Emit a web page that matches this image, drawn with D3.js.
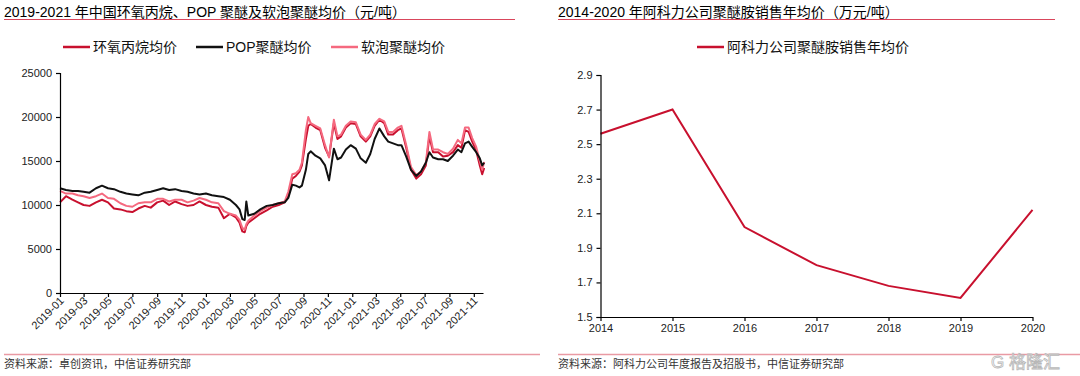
<!DOCTYPE html>
<html>
<head>
<meta charset="utf-8">
<script src="https://cdn.jsdelivr.net/npm/d3@7"></script>
<style>
  body { margin: 0; background: #fff; }
  svg { display: block; font-family: "Liberation Sans", Arial, "Noto Sans CJK SC", sans-serif; }
  .axis path, .axis line { stroke: #000; stroke-width: 1.2px; }
  .axis text { fill: #222; font-size: 11px; }
</style>
</head>
<body>
<svg id="chart" width="1080" height="376"></svg>
<script>
// left chart: prices, thousand yuan/ton
var dates = ["2019-01-01","2019-01-16","2019-02-01","2019-02-15","2019-03-01","2019-03-16","2019-04-01","2019-04-16",
  "2019-05-01","2019-05-16","2019-06-01","2019-06-16","2019-07-01","2019-07-16","2019-08-01","2019-08-16",
  "2019-09-01","2019-09-16","2019-10-01","2019-10-16","2019-11-01","2019-11-16","2019-12-01","2019-12-16",
  "2020-01-01","2020-01-16","2020-02-01","2020-02-15","2020-03-01","2020-03-16","2020-03-25","2020-04-01",
  "2020-04-07","2020-04-11","2020-04-16","2020-05-01","2020-05-16","2020-06-01","2020-06-16","2020-07-01",
  "2020-07-16","2020-07-25","2020-08-04","2020-08-13","2020-08-22","2020-08-28","2020-09-07","2020-09-13",
  "2020-09-19","2020-10-01","2020-10-13","2020-10-25","2020-11-04","2020-11-16","2020-11-25","2020-12-04",
  "2020-12-16","2020-12-28","2021-01-10","2021-01-22","2021-02-04","2021-02-15","2021-02-26","2021-03-10",
  "2021-03-22","2021-04-01","2021-04-13","2021-04-25","2021-05-04","2021-05-16","2021-05-28","2021-06-10",
  "2021-06-22","2021-07-04","2021-07-13","2021-07-22","2021-08-04","2021-08-16","2021-08-28","2021-09-10",
  "2021-09-22","2021-10-01","2021-10-10","2021-10-19","2021-10-28","2021-11-07","2021-11-16","2021-11-22",
  "2021-11-27"];

var poAvg = [10.3,11.0,10.6,10.3,10.0,9.9,10.3,10.6,10.3,9.6,9.5,9.3,9.2,9.6,9.9,9.7,
  10.3,10.5,10.0,10.4,10.1,9.9,10.0,10.4,10.0,9.8,9.7,8.5,9.0,8.6,8.0,7.0,
  6.9,7.6,8.0,8.5,9.0,9.4,9.8,10.0,10.3,11.0,13.0,13.3,13.8,14.5,17.5,19.0,
  19.2,18.8,18.5,16.5,15.5,19.3,17.5,17.8,18.8,19.3,19.2,17.8,17.2,17.8,19.0,19.7,
  19.3,18.0,18.0,18.5,18.7,16.5,14.0,13.0,13.5,14.5,17.8,16.0,16.0,15.5,15.6,16.0,
  16.8,16.5,18.5,18.3,17.2,16.2,14.5,13.5,14.2];

var popAvg = [11.9,11.7,11.6,11.6,11.5,11.4,11.9,12.2,11.9,11.8,11.5,11.3,11.2,11.1,11.4,11.5,
  11.7,11.9,11.7,11.8,11.6,11.5,11.3,11.2,11.3,11.1,11.0,10.9,10.6,10.0,9.5,8.4,
  8.3,10.4,8.8,9.0,9.5,9.9,10.0,10.2,10.3,10.8,12.3,12.2,12.0,12.2,14.0,15.8,
  16.1,15.6,15.3,14.5,12.8,16.4,15.2,15.4,16.3,16.8,16.4,15.3,14.8,15.8,17.5,18.7,
  17.8,17.2,17.0,16.8,16.8,15.5,14.0,13.3,13.8,14.8,16.0,15.4,15.2,15.2,15.0,15.6,
  16.3,16.0,17.0,17.2,16.6,16.0,15.3,14.5,14.8];

var foamAvg = [11.6,11.3,11.3,11.1,11.0,10.8,11.0,11.3,10.8,10.7,10.2,9.9,9.8,10.2,10.3,10.3,
  10.7,10.7,10.4,10.6,10.6,10.3,10.5,10.8,10.6,10.3,10.2,9.3,9.0,8.8,8.3,7.4,
  7.2,7.8,8.2,8.8,9.3,9.7,10.0,10.2,10.4,11.5,13.5,13.6,14.0,14.8,18.5,20.0,
  19.3,19.0,18.7,16.8,15.4,19.7,17.8,18.0,19.0,19.5,19.4,18.0,17.4,18.0,19.2,19.8,
  19.5,18.3,18.3,18.8,19.0,16.8,14.3,13.4,13.8,14.8,18.3,16.3,16.3,16.0,15.8,16.4,
  17.4,17.0,18.8,18.8,17.6,16.6,15.0,14.0,14.9];

var leftNames = ["环氧丙烷均价", "POP聚醚均价", "软泡聚醚均价"];
var leftColors = ["#c8102e", "#111111", "#f5697f"];
var leftTicks = [0, 5000, 10000, 15000, 20000, 25000];

// right chart
var years = ["2014", "2015", "2016", "2017", "2018", "2019", "2020"];
var pea = [2.56, 2.70, 2.02, 1.80, 1.68, 1.61, 2.12];
var rightTicks = [1.5, 1.7, 1.9, 2.1, 2.3, 2.5, 2.7, 2.9];

var svg = d3.select("#chart");
var parse = d3.timeParse("%Y-%m-%d");

function header(x0, x1, title, source) {
	svg.append("text").attr("x", x0).attr("y", 17)
		.style("font-size", "14px").style("fill", "#000")
		.text(title);
	svg.append("line").attr("x1", x0).attr("x2", x1).attr("y1", 19.5).attr("y2", 19.5)
		.style("stroke", "#d9465c").style("stroke-width", 1);
	svg.append("line").attr("x1", x0).attr("x2", x1 + 25).attr("y1", 354.5).attr("y2", 354.5)
		.style("stroke", "#e99aa4").style("stroke-width", 1.5);
	svg.append("text").attr("x", x0).attr("y", 368)
		.style("font-size", "11px").style("fill", "#333")
		.text(source);
}

function legendItem(x, y, color, label) {
	svg.append("line").attr("x1", x).attr("x2", x + 27).attr("y1", y).attr("y2", y)
		.style("stroke", color).style("stroke-width", 2.5);
	svg.append("text").attr("x", x + 30).attr("y", y + 5)
		.style("font-size", "14px").style("fill", "#111")
		.text(label);
}

// ---------- left chart ----------
header(4, 515, "2019-2021 年中国环氧丙烷、POP 聚醚及软泡聚醚均价（元/吨）", "资料来源：卓创资讯，中信证券研究部");

var x = d3.scaleTime().domain([parse("2019-01-01"), parse("2021-11-24")]).range([60, 483]);
var y = d3.scaleLinear().domain([0, 25000]).range([293, 73]);

var series = [poAvg, popAvg, foamAvg];
var drawOrder = [0, 2, 1];

var line = d3.line()
	.x(function(d) { return x(d.date); })
	.y(function(d) { return y(d.value); });

drawOrder.forEach(function(k) {
	var pts = dates.map(function(s, i) { return {date: parse(s), value: series[k][i] * 1000}; });
	svg.append("path").datum(pts)
		.attr("d", line)
		.style("fill", "none")
		.style("stroke", leftColors[k])
		.style("stroke-width", 2)
		.style("stroke-linejoin", "round");
});

svg.append("g").attr("class", "axis").attr("transform", "translate(60,0)")
	.call(d3.axisLeft(y).tickValues(leftTicks).tickSize(4).tickPadding(4).tickFormat(d3.format("d")));

svg.append("g").attr("class", "axis").attr("transform", "translate(0,293)")
	.call(d3.axisBottom(x).ticks(d3.timeMonth.every(2)).tickSize(4).tickSizeOuter(0).tickFormat(d3.timeFormat("%Y-%m")))
	.selectAll("text")
	.attr("x", -3).attr("y", 5).attr("dy", "0.35em")
	.attr("transform", "rotate(-45)")
	.style("text-anchor", "end");

legendItem(63, 47, leftColors[0], leftNames[0]);
legendItem(196, 47, leftColors[1], leftNames[1]);
legendItem(331, 47, leftColors[2], leftNames[2]);

// ---------- right chart ----------
header(558, 1055, "2014-2020 年阿科力公司聚醚胺销售年均价（万元/吨）", "资料来源：阿科力公司年度报告及招股书，中信证券研究部");

var x2 = d3.scalePoint().domain(years).range([600.5, 1032.5]);
var y2 = d3.scaleLinear().domain([1.5, 2.9]).range([317, 75]);

svg.append("path").datum(pea)
	.attr("d", d3.line().x(function(d, i) { return x2(years[i]); }).y(function(d) { return y2(d); }))
	.style("fill", "none")
	.style("stroke", "#c8102e")
	.style("stroke-width", 2);

svg.append("g").attr("class", "axis").attr("transform", "translate(600.5,0)")
	.call(d3.axisLeft(y2).tickValues(rightTicks).tickSize(4).tickPadding(4).tickFormat(d3.format(".1f")));

svg.append("g").attr("class", "axis").attr("transform", "translate(0,317)")
	.call(d3.axisBottom(x2).tickSize(4).tickSizeOuter(0).tickPadding(3));

legendItem(697, 47, "#c8102e", "阿科力公司聚醚胺销售年均价");

// watermark
svg.append("text").attr("x", 1060).attr("y", 368)
	.style("text-anchor", "end").style("font-size", "17px")
	.style("fill", "#fff").style("stroke", "#b8b8b8").style("stroke-width", 0.8)
	.text("G 格隆汇");
</script>
</body>
</html>
